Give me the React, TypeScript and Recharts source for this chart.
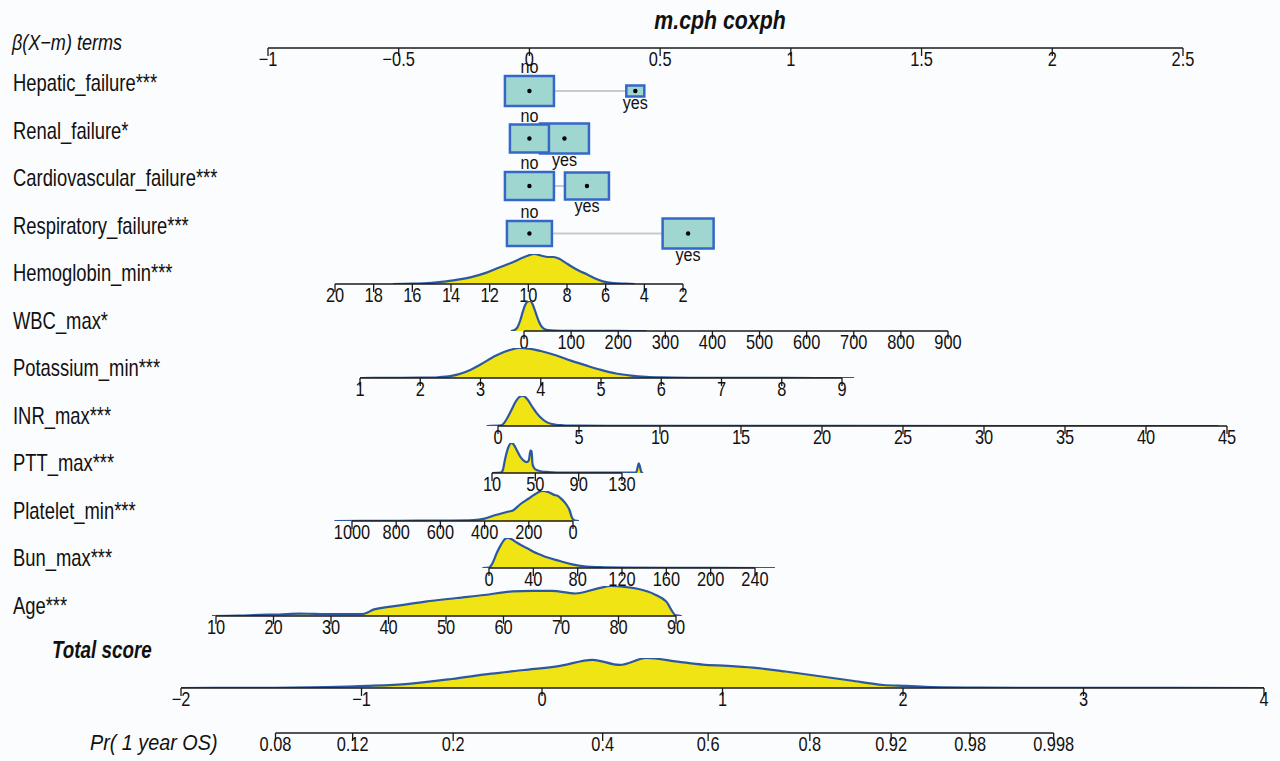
import React from 'react';
import { ComposedChart, XAxis, YAxis, Area, Line, Scatter, ReferenceLine } from 'recharts';

// ---------------- DATA ----------------
const title = 'm.cph coxph';
const betaTicks = [-1, -0.5, 0, 0.5, 1, 1.5, 2, 2.5];

const rowLabels = [
  'Hepatic_failure***',
  'Renal_failure*',
  'Cardiovascular_failure***',
  'Respiratory_failure***',
  'Hemoglobin_min***',
  'WBC_max*',
  'Potassium_min***',
  'INR_max***',
  'PTT_max***',
  'Platelet_min***',
  'Bun_max***',
  'Age***',
];

const binaryLevels = ['no', 'yes'];
const hepaticBeta = [0, 0.405];
const renalBeta = [0, 0.134];
const cardioBeta = [0, 0.22];
const respiratoryBeta = [0, 0.607];

const hemoglobinTicks = [20, 18, 16, 14, 12, 10, 8, 6, 4, 2];
const hemoglobinDensity = [
  [17, 0], [16, 0.01], [15, 0.04], [14.5, 0.07], [14, 0.11], [13, 0.22], [12.2, 0.37], [11.5, 0.55],
  [10.9, 0.7], [10.2, 0.9], [9.7, 1.0], [9.3, 0.94], [9.0, 0.9], [8.7, 0.9], [8.4, 0.84], [8.1, 0.72],
  [7.7, 0.56], [7.4, 0.45], [7.0, 0.33], [6.6, 0.2], [6.1, 0.08], [5.6, 0.03], [5, 0.01], [4.5, 0],
];

const wbcTicks = [0, 100, 200, 300, 400, 500, 600, 700, 800, 900];
const wbcDensity = [
  [-28, 0], [-20, 0.03], [-14, 0.12], [-8, 0.35], [-3, 0.62], [2, 0.85], [8, 0.98], [13, 1.0],
  [18, 0.9], [24, 0.65], [30, 0.38], [36, 0.18], [42, 0.08], [50, 0.03], [65, 0.012], [100, 0.005],
  [200, 0.001], [260, 0],
];

const potassiumTicks = [1, 2, 3, 4, 5, 6, 7, 8, 9];
const potassiumDensity = [
  [1, 0], [1.5, 0.003], [2, 0.01], [2.3, 0.025], [2.5, 0.06], [2.75, 0.2], [3, 0.45], [3.25, 0.74],
  [3.5, 0.94], [3.65, 1.0], [3.8, 0.98], [4, 0.9], [4.25, 0.76], [4.5, 0.58], [4.75, 0.42], [5, 0.27],
  [5.25, 0.15], [5.5, 0.08], [5.75, 0.04], [6, 0.02], [6.5, 0.006], [7, 0.002], [8, 0.001], [9.2, 0],
];

const inrTicks = [0, 5, 10, 15, 20, 25, 30, 35, 40, 45];
const inrDensity = [
  [-0.7, 0], [0.2, 0.02], [0.5, 0.2], [0.8, 0.5], [1.1, 0.82], [1.4, 0.99], [1.55, 1.0], [1.8, 0.9],
  [2.1, 0.65], [2.4, 0.42], [2.7, 0.25], [3.0, 0.13], [3.5, 0.05], [4, 0.025], [5, 0.01], [7, 0.004],
  [10, 0.002], [20, 0.001], [44.5, 0],
];

const pttTicks = [10, 50, 90, 130];
const pttDensity = [
  [10, 0], [18, 0.01], [20, 0.1], [22, 0.45], [25, 0.85], [28, 1.0], [30, 0.95], [33, 0.75], [36, 0.55],
  [39, 0.42], [42, 0.36], [44, 0.42], [45.5, 0.75], [46.5, 0.72], [47.5, 0.28], [50, 0.12], [55, 0.06],
  [62, 0.03], [70, 0.015], [90, 0.01], [143, 0.01], [144.5, 0.2], [145.5, 0.32], [146.5, 0.22],
  [148, 0.02], [149.5, 0],
];

const plateletTicks = [1000, 800, 600, 400, 200, 0];
const plateletDensity = [
  [1080, 0], [900, 0.005], [700, 0.01], [550, 0.015], [450, 0.03], [400, 0.08], [350, 0.2], [300, 0.3],
  [270, 0.36], [240, 0.55], [200, 0.75], [170, 0.9], [140, 1.0], [110, 0.96], [85, 0.87], [70, 0.84],
  [50, 0.72], [30, 0.55], [15, 0.35], [5, 0.12], [-10, 0.01], [-27, 0],
];

const bunTicks = [0, 40, 80, 120, 160, 200, 240];
const bunDensity = [
  [-6, 0], [0, 0.01], [3, 0.15], [7, 0.5], [10, 0.72], [14, 0.95], [17, 1.0], [21, 0.95], [25, 0.85],
  [30, 0.74], [35, 0.65], [40, 0.54], [46, 0.45], [53, 0.35], [60, 0.27], [67, 0.2], [74, 0.13],
  [81, 0.08], [88, 0.05], [100, 0.03], [120, 0.015], [160, 0.008], [200, 0.004], [258, 0],
];

const ageTicks = [10, 20, 30, 40, 50, 60, 70, 80, 90];
const ageDensity = [
  [9.3, 0], [14, 0.01], [17.5, 0.04], [21, 0.05], [24.4, 0.08], [27.2, 0.07], [31, 0.06], [35.4, 0.06],
  [37.5, 0.22], [42.3, 0.36], [46.4, 0.48], [51.9, 0.6], [56.7, 0.7], [61.5, 0.82], [65, 0.84],
  [68.4, 0.84], [72.5, 0.75], [76.6, 0.93], [78.7, 1.0], [81, 0.97], [83.5, 0.9], [86.3, 0.72],
  [88.3, 0.48], [90, 0.02], [91, 0],
];

const totalTicks = [-2, -1, 0, 1, 2, 3, 4];
const totalDensity = [
  [-2, 0], [-1.6, 0.004], [-1.19, 0.03], [-0.97, 0.07], [-0.74, 0.14], [-0.5, 0.3], [-0.28, 0.48],
  [-0.1, 0.6], [0.1, 0.74], [0.28, 0.94], [0.43, 0.77], [0.58, 1.0], [0.75, 0.88], [0.89, 0.78],
  [1.03, 0.74], [1.17, 0.68], [1.35, 0.55], [1.53, 0.4], [1.71, 0.25], [1.89, 0.1], [2.02, 0.07],
  [2.16, 0.03], [2.43, 0.01], [2.88, 0.003], [4, 0],
];

const prTicks = [0.08, 0.12, 0.2, 0.4, 0.6, 0.8, 0.92, 0.98, 0.998];
const baselineCumHazard = 0.365; // Pr = 1 - exp(-H0 * exp(score))

// ---------------- LAYOUT / STYLE ----------------
const W = 1280;
const H = 761;
const FONT = "'Liberation Sans', Arial, sans-serif";
const COND = 0.82; // horizontal condensing of the text, to mimic a narrow face
const TICK_FS = 20;
const BG = '#fbfcfe';
const YELLOW = '#F0E414';
const BLUE_LINE = '#2B58A0';
const BOX_FILL = '#9FD7D0';
const BOX_STROKE = '#3567C8';
const AXIS = '#1b1b1b';
const TEXT = '#111';
const PLOT_H = 30;
const AXIS_H = 34;

const LAYOUT = {
  beta: { axisY: 48, p1: 268, p2: 1183 },
  hemoglobin: { axisY: 284, p1: 335, p2: 683 },
  wbc: { axisY: 331, p1: 524, p2: 948 },
  potassium: { axisY: 378, p1: 360, p2: 842 },
  inr: { axisY: 426, p1: 498, p2: 1227 },
  ptt: { axisY: 473, p1: 492, p2: 622 },
  platelet: { axisY: 521, p1: 352, p2: 573 },
  bun: { axisY: 568, p1: 489, p2: 755 },
  age: { axisY: 616, p1: 216, p2: 676 },
  total: { axisY: 688, p1: 181, p2: 1264 },
  pr: { axisY: 733, p1: 181, p2: 1264 },
};

const ROW_LABEL = { x: 13, y0: 83, step: 47.5 };
const BOX_ROW = { y0: 91, step: 47.5, chartH: 270 };
const BOX_SIZE = [
  [[49, 30], [18, 11]],
  [[39, 28], [49, 30]],
  [[49, 28], [44, 27]],
  [[45, 25], [51, 30]],
];

const fmt = (v: number) => String(v).replace('-', '\u2212');

function calibDomain(v1: number, v2: number, p1: number, p2: number) {
  const a = (p2 - p1) / (v2 - v1);
  const vAt = (px: number) => v1 + (px - p1) / a;
  const lo = Math.min(vAt(0), vAt(W));
  const hi = Math.max(vAt(0), vAt(W));
  return { domain: [lo, hi] as [number, number], reversed: a < 0 };
}

const makeTick = (format: (v: number) => string) => (props: any) => {
  const { x, y, payload } = props;
  return (
    <g transform={`translate(${x},${y})`}>
      <text
        x={0}
        y={0}
        dy="0.71em"
        textAnchor="middle"
        transform={`scale(${COND},1)`}
        fontSize={TICK_FS}
        fontFamily={FONT}
        fill={TEXT}
      >
        {format(payload.value)}
      </text>
    </g>
  );
};

type RowProps = {
  ticks: number[];
  lay: { axisY: number; p1: number; p2: number };
  density?: number[][];
  calib?: [number, number];
  format?: (v: number) => string;
};

function AxisRow({ ticks, lay, density, calib, format }: RowProps) {
  const v1 = calib ? calib[0] : ticks[0];
  const v2 = calib ? calib[1] : ticks[ticks.length - 1];
  const { domain, reversed } = calibDomain(v1, v2, lay.p1, lay.p2);
  const data = density
    ? density.map(([x, d]) => ({ x, d }))
    : ticks.map((x) => ({ x }));
  const tmin = Math.min(...ticks);
  const tmax = Math.max(...ticks);
  return (
    <div style={{ position: 'absolute', left: 0, top: lay.axisY - PLOT_H, width: W, height: PLOT_H + AXIS_H }}>
      <ComposedChart width={W} height={PLOT_H + AXIS_H} data={data} margin={{ top: 0, right: 0, bottom: 0, left: 0 }}>
        <XAxis
          type="number"
          dataKey="x"
          domain={domain}
          allowDataOverflow
          reversed={reversed}
          ticks={ticks}
          interval={0}
          axisLine={false}
          tickLine={{ stroke: AXIS, strokeWidth: 1.3 }}
          tickSize={8}
          tickMargin={-4}
          height={AXIS_H}
          tick={makeTick(format || fmt)}
        />
        <YAxis type="number" hide domain={[0, 1]} allowDataOverflow />
        {density && (
          <Area
            dataKey="d"
            type="monotone"
            stroke={BLUE_LINE}
            strokeWidth={2.2}
            fill={YELLOW}
            fillOpacity={1}
            dot={false}
            activeDot={false}
            isAnimationActive={false}
          />
        )}
        <ReferenceLine
          segment={[{ x: tmin, y: 0 }, { x: tmax, y: 0 }]}
          stroke={AXIS}
          strokeWidth={1.7}
        />
      </ComposedChart>
    </div>
  );
}

const binaryBetas = [hepaticBeta, renalBeta, cardioBeta, respiratoryBeta];

function BoxShape(props: any) {
  const { cx, cy, payload } = props;
  if (cx == null || cy == null) return null;
  const w = payload.w;
  const h = payload.h;
  const isNo = payload.level === binaryLevels[0];
  const ty = isNo ? cy - h / 2 - 9 : cy + h / 2 + 6;
  return (
    <g>
      <rect x={cx - w / 2} y={cy - h / 2} width={w} height={h} fill={BOX_FILL} stroke={BOX_STROKE} strokeWidth={2.5} />
      <circle cx={cx} cy={cy} r={2.2} fill="#000" />
      <text
        transform={`translate(${cx},${ty}) scale(0.85,1)`}
        textAnchor="middle"
        dominantBaseline="central"
        fontFamily={FONT}
        fontSize={19}
        fill={TEXT}
      >
        {payload.level}
      </text>
    </g>
  );
}

function BoxChart() {
  const { domain } = calibDomain(betaTicks[0], betaTicks[betaTicks.length - 1], LAYOUT.beta.p1, LAYOUT.beta.p2);
  const yLo = -BOX_ROW.y0 / BOX_ROW.step;
  const yHi = yLo + BOX_ROW.chartH / BOX_ROW.step;
  const boxData: any[] = [];
  binaryBetas.forEach((b, r) => {
    [1, 0].forEach((li) => {
      boxData.push({ beta: b[li], row: r, level: binaryLevels[li], w: BOX_SIZE[r][li][0], h: BOX_SIZE[r][li][1] });
    });
  });
  return (
    <div style={{ position: 'absolute', left: 0, top: 0, width: W, height: BOX_ROW.chartH }}>
      <ComposedChart width={W} height={BOX_ROW.chartH} margin={{ top: 0, right: 0, bottom: 0, left: 0 }}>
        <XAxis type="number" dataKey="beta" domain={domain} allowDataOverflow hide />
        <YAxis type="number" dataKey="row" domain={[yLo, yHi]} reversed allowDataOverflow hide />
        {binaryBetas.map((b, r) => (
          <Line
            key={r}
            data={[{ beta: b[0], row: r }, { beta: b[1], row: r }]}
            dataKey="row"
            stroke="#C3CCD4"
            strokeWidth={2}
            dot={false}
            activeDot={false}
            isAnimationActive={false}
          />
        ))}
        <Scatter data={boxData} dataKey="row" shape={BoxShape} isAnimationActive={false} />
      </ComposedChart>
    </div>
  );
}

const prToScore = (p: number) => Math.log(-Math.log(1 - p) / baselineCumHazard);
const prScoreTicks = prTicks.map(prToScore);
const prFormat = (v: number) => {
  let best = 0;
  prScoreTicks.forEach((s, i) => {
    if (Math.abs(s - v) < Math.abs(prScoreTicks[best] - v)) best = i;
  });
  return String(prTicks[best]);
};

function Label({ x, y, size, sx, bold, italic, anchor, children }: any) {
  return (
    <text
      transform={`translate(${x},${y}) scale(${sx},1)`}
      textAnchor={anchor || 'start'}
      dominantBaseline="central"
      fontFamily={FONT}
      fontSize={size}
      fontWeight={bold ? 'bold' : 'normal'}
      fontStyle={italic ? 'italic' : 'normal'}
      fill={TEXT}
    >
      {children}
    </text>
  );
}

export default function App() {
  return (
    <div style={{ position: 'absolute', left: 0, top: 0, width: W, height: H, background: BG, overflow: 'hidden' }}>
      <AxisRow ticks={betaTicks} lay={LAYOUT.beta} />
      <BoxChart />
      <AxisRow ticks={hemoglobinTicks} lay={LAYOUT.hemoglobin} density={hemoglobinDensity} />
      <AxisRow ticks={wbcTicks} lay={LAYOUT.wbc} density={wbcDensity} />
      <AxisRow ticks={potassiumTicks} lay={LAYOUT.potassium} density={potassiumDensity} />
      <AxisRow ticks={inrTicks} lay={LAYOUT.inr} density={inrDensity} />
      <AxisRow ticks={pttTicks} lay={LAYOUT.ptt} density={pttDensity} />
      <AxisRow ticks={plateletTicks} lay={LAYOUT.platelet} density={plateletDensity} />
      <AxisRow ticks={bunTicks} lay={LAYOUT.bun} density={bunDensity} />
      <AxisRow ticks={ageTicks} lay={LAYOUT.age} density={ageDensity} />
      <AxisRow ticks={totalTicks} lay={LAYOUT.total} density={totalDensity} />
      <AxisRow ticks={prScoreTicks} lay={LAYOUT.pr} calib={[totalTicks[0], totalTicks[totalTicks.length - 1]]} format={prFormat} />
      <svg width={W} height={H} style={{ position: 'absolute', left: 0, top: 0, pointerEvents: 'none' }}>
        <Label x={720} y={20} size={26} sx={0.82} bold italic anchor="middle">{title}</Label>
        <Label x={12} y={42} size={22} sx={0.82} italic>{'\u03B2(X\u2212m) terms'}</Label>
        {rowLabels.map((lab, i) => (
          <Label key={lab} x={ROW_LABEL.x} y={ROW_LABEL.y0 + ROW_LABEL.step * i} size={23} sx={0.8}>
            {lab}
          </Label>
        ))}
        <Label x={52} y={650} size={23} sx={0.82} bold italic>Total score</Label>
        <Label x={90} y={742} size={22} sx={0.9} italic>Pr( 1 year OS)</Label>
      </svg>
    </div>
  );
}
